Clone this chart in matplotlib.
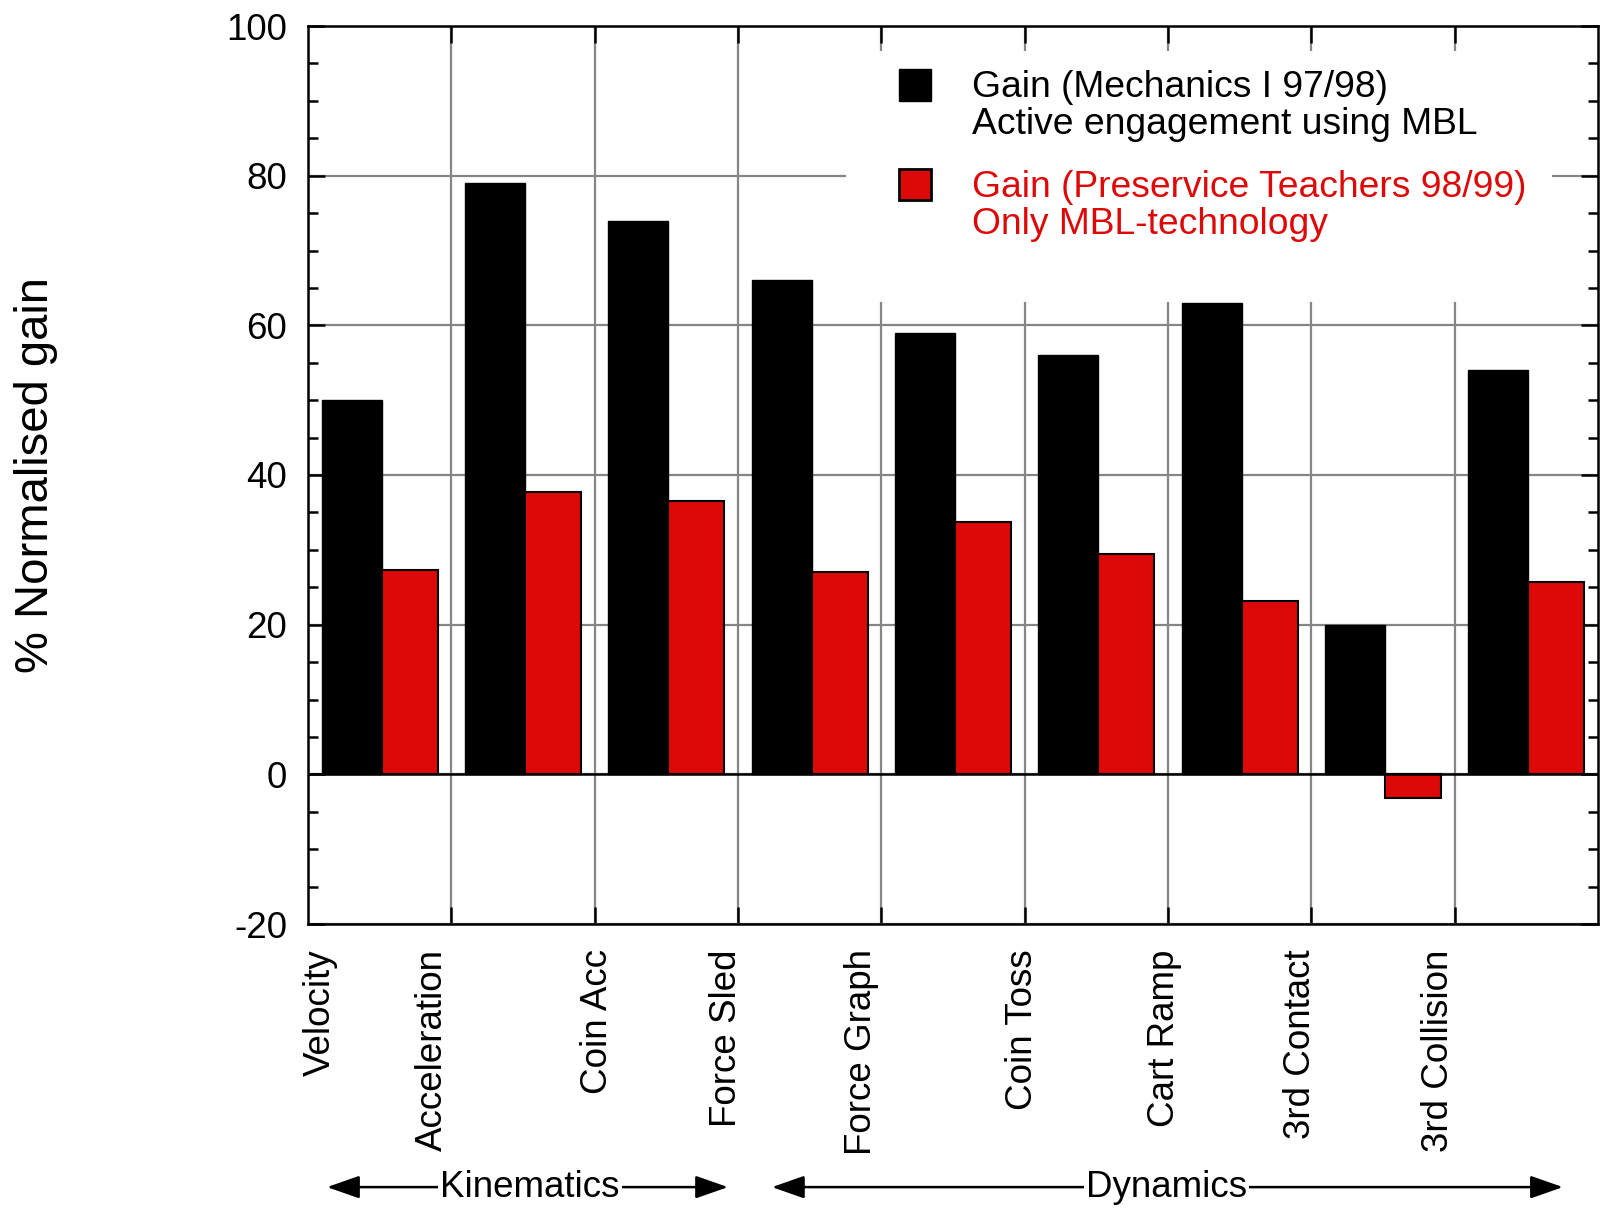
#!/usr/bin/env python3
"""
Normalised gain per MBL activity: Mechanics I (97/98) vs preservice teachers (98/99).
"""

import matplotlib
matplotlib.use('Agg')
import matplotlib.pyplot as plt
from matplotlib.patches import Rectangle
from matplotlib.ticker import MultipleLocator, FixedLocator
import numpy as np

plt.rcParams['font.family'] = ['Liberation Sans', 'DejaVu Sans']
plt.rcParams['axes.unicode_minus'] = False

categories = ['Velocity', 'Acceleration', 'Coin Acc', 'Force Sled', 'Force Graph',
              'Coin Toss', 'Cart Ramp', '3rd Contact', '3rd Collision']
gain_mech = [50, 79, 74, 66, 59, 56, 63, 20, 54]
gain_teach = [27.3, 37.7, 36.5, 27.0, 33.7, 29.5, 23.1, -3.1, 25.7]

# hand-placed label positions (the original labels are not centred on groups)
label_x = [0.084, 0.865, 2.023, 2.923, 3.865, 4.988, 5.979, 6.921, 7.884]

BLACK = '#000000'
RED = '#dd0808'
FS = 26.5


def main():
    fig = plt.figure(figsize=(16, 12.08), dpi=100)
    ax = fig.add_axes([308 / 1600, 1 - 924 / 1208, 1290 / 1600, 898 / 1208])

    n = len(categories)
    x = np.arange(n)
    ax.bar(x + 0.095, gain_mech, width=0.42, align='edge', color=BLACK,
           edgecolor=BLACK, linewidth=1.0, zorder=3)
    ax.bar(x + 0.515, gain_teach, width=0.39, align='edge', color=RED,
           edgecolor=BLACK, linewidth=1.5, zorder=3)
    ax.axhline(0, color=BLACK, linewidth=1.8, zorder=4)

    ax.set_xlim(0, n)
    ax.set_ylim(-20, 100)

    ax.xaxis.set_major_locator(FixedLocator(np.arange(1, n)))
    ax.set_xticklabels([])
    ax.yaxis.set_major_locator(MultipleLocator(20))
    ax.yaxis.set_minor_locator(MultipleLocator(5))
    ax.tick_params(which='both', direction='in', top=True, right=True,
                   width=1.8, color=BLACK)
    ax.tick_params(which='major', length=12)
    ax.tick_params(which='minor', length=7)
    ax.tick_params(axis='y', labelsize=FS, pad=15)
    ax.grid(True, which='major', color='#858585', linewidth=1.6, zorder=1)
    ax.set_axisbelow(True)
    for sp in ax.spines.values():
        sp.set_linewidth(1.8)
        sp.set_zorder(5)

    # category labels below the axes
    trans = ax.get_xaxis_transform()
    for xi, name in zip(label_x, categories):
        ax.text(xi, -0.028, name, rotation=90, ha='center', va='top',
                fontsize=FS, transform=trans, clip_on=False)

    # legend block with white background
    ax.add_patch(Rectangle((0.4171, 0.6927), 0.5472, 0.2795, transform=ax.transAxes,
                           facecolor='white', edgecolor='none', zorder=2))
    ax.add_patch(Rectangle((0.4581, 0.9165), 0.0248, 0.0356, transform=ax.transAxes,
                           facecolor=BLACK, edgecolor=BLACK, linewidth=1.0, zorder=6))
    ax.add_patch(Rectangle((0.4581, 0.8062), 0.0248, 0.0346, transform=ax.transAxes,
                           facecolor=RED, edgecolor=BLACK, linewidth=2.0, zorder=6))
    legend_lines = [
        ('Gain (Mechanics I 97/98)', 0.9204, BLACK),
        ('Active engagement using MBL', 0.8792, BLACK),
        ('Gain (Preservice Teachers 98/99)', 0.8101, RED),
        ('Only MBL-technology', 0.7689, RED),
    ]
    for txt, yy, col in legend_lines:
        ax.text(0.5147, yy, txt, color=col, fontsize=26.8, va='baseline', ha='left',
                transform=ax.transAxes, zorder=6)

    # group arrows
    arrow_y = -0.293
    for x0, x1, xc, name in [(0.133, 2.93, 1.548, 'Kinematics'),
                             (3.237, 8.755, 5.99, 'Dynamics')]:
        ax.annotate('', xy=(x0, arrow_y), xytext=(x1, arrow_y),
                    xycoords=('data', 'axes fraction'),
                    textcoords=('data', 'axes fraction'),
                    arrowprops=dict(arrowstyle='<|-|>,head_length=2.0,head_width=0.7',
                                    color=BLACK, lw=1.8, shrinkA=0, shrinkB=0,
                                    mutation_scale=10),
                    annotation_clip=False)
        ax.text(xc, arrow_y, name, fontsize=FS, ha='center', va='center',
                transform=ax.get_xaxis_transform(), clip_on=False, zorder=7,
                bbox=dict(facecolor='white', edgecolor='none', pad=1.5))

    fig.text(36 / 1600, 1 - 475 / 1208, '% Normalised gain', rotation=90,
             ha='center', va='center', fontsize=34)

    fig.savefig('out.png', dpi=100)


if __name__ == '__main__':
    main()
